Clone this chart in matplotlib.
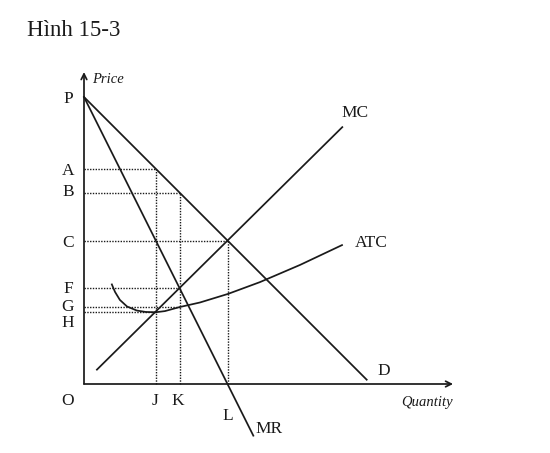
import matplotlib.pyplot as plt

plt.rcParams['font.family'] = ['Liberation Serif', 'DejaVu Serif']

# curves (quantity, price)
demand_q = [0, 98.5]
demand_p = [100, 1.5]
mr_q = [0, 59]
mr_p = [100, -18]
mc_q = [4.5, 90]
mc_p = [5, 89.5]
atc_q = [9.7, 10.8, 12.5, 15.0, 18.4, 21.5, 25.0, 28.2, 33.3, 40.4, 50.2, 61.3, 75.3, 89.9]
atc_p = [34.7, 32.1, 29.3, 27.0, 25.6, 25.1, 25.0, 25.4, 26.8, 28.4, 31.4, 35.5, 41.5, 48.4]

# marked quantities and prices
q_marks = {'J': 25, 'K': 33.3, 'L': 50}
p_marks = {'P': 100, 'A': 75, 'B': 66.7, 'C': 50, 'F': 33.3, 'G': 26.8, 'H': 25}

# 1 data unit = 2.87 px, origin at pixel (84, 384)
fig = plt.figure(figsize=(5.5, 4.53), dpi=100)
ax = fig.add_axes([0, 0, 1, 1])
ax.set_xlim(-84 / 2.87, (550 - 84) / 2.87)
ax.set_ylim((384 - 453) / 2.87, 384 / 2.87)
ax.axis('off')

ink = '#1a1a1a'
lw = 1.25

# axes with open arrows
ax.annotate('', xy=(0, 108.7), xytext=(0, 0),
            arrowprops=dict(arrowstyle='->', lw=lw, color=ink, shrinkA=0, shrinkB=0))
ax.annotate('', xy=(128.6, 0), xytext=(0, 0),
            arrowprops=dict(arrowstyle='->', lw=lw, color=ink, shrinkA=0, shrinkB=0))

# guide lines
dot = dict(color=ink, lw=1.0, linestyle=(0, (1, 1)))
J, K, L = q_marks['J'], q_marks['K'], q_marks['L']
for name, q in [('A', J), ('B', K), ('C', L), ('F', K), ('G', K), ('H', J)]:
    ax.plot([0, q], [p_marks[name]] * 2, **dot)
for q, p in [(J, p_marks['A']), (K, p_marks['B']), (L, p_marks['C'])]:
    ax.plot([q, q], [0, p], **dot)

# curves
ax.plot(demand_q, demand_p, color=ink, lw=lw)
ax.plot(mr_q, mr_p, color=ink, lw=lw)
ax.plot(mc_q, mc_p, color=ink, lw=lw)
ax.plot(atc_q, atc_p, color=ink, lw=lw)

# labels
fs = 12.5
label_y = {'P': 99.3, 'A': 74.2, 'B': 66.9, 'C': 49.1, 'F': 33.1, 'G': 26.8, 'H': 21.3}
for name, y in label_y.items():
    ax.text(-5.6, y, name, fontsize=fs, ha='center', va='center', color=ink)
ax.text(-5.6, -5.9, 'O', fontsize=fs, ha='center', va='center', color=ink)
ax.text(24.7, -5.9, 'J', fontsize=fs, ha='center', va='center', color=ink)
ax.text(32.8, -5.9, 'K', fontsize=fs, ha='center', va='center', color=ink)
ax.text(50.2, -11.1, 'L', fontsize=fs, ha='center', va='center', color=ink)
ax.text(64.3, -15.7, 'MR', fontsize=fs, ha='center', va='center', color=ink)
ax.text(104.5, 4.5, 'D', fontsize=fs, ha='center', va='center', color=ink)
ax.text(94.4, 94.4, 'MC', fontsize=fs, ha='center', va='center', color=ink)
ax.text(100.0, 49.1, 'ATC', fontsize=fs, ha='center', va='center', color=ink)
ax.text(2.8, 106.0, 'Price', fontsize=10.5, style='italic', ha='left', va='center', color=ink)
ax.text(119.5, -6.6, 'Quantity', fontsize=10.5, style='italic', ha='center', va='center', color=ink)

fig.text(27 / 550, 1 - 30 / 453, 'Hình 15-3', fontsize=16.5, ha='left', va='center', color=ink)

fig.savefig('out.png', dpi=100)
